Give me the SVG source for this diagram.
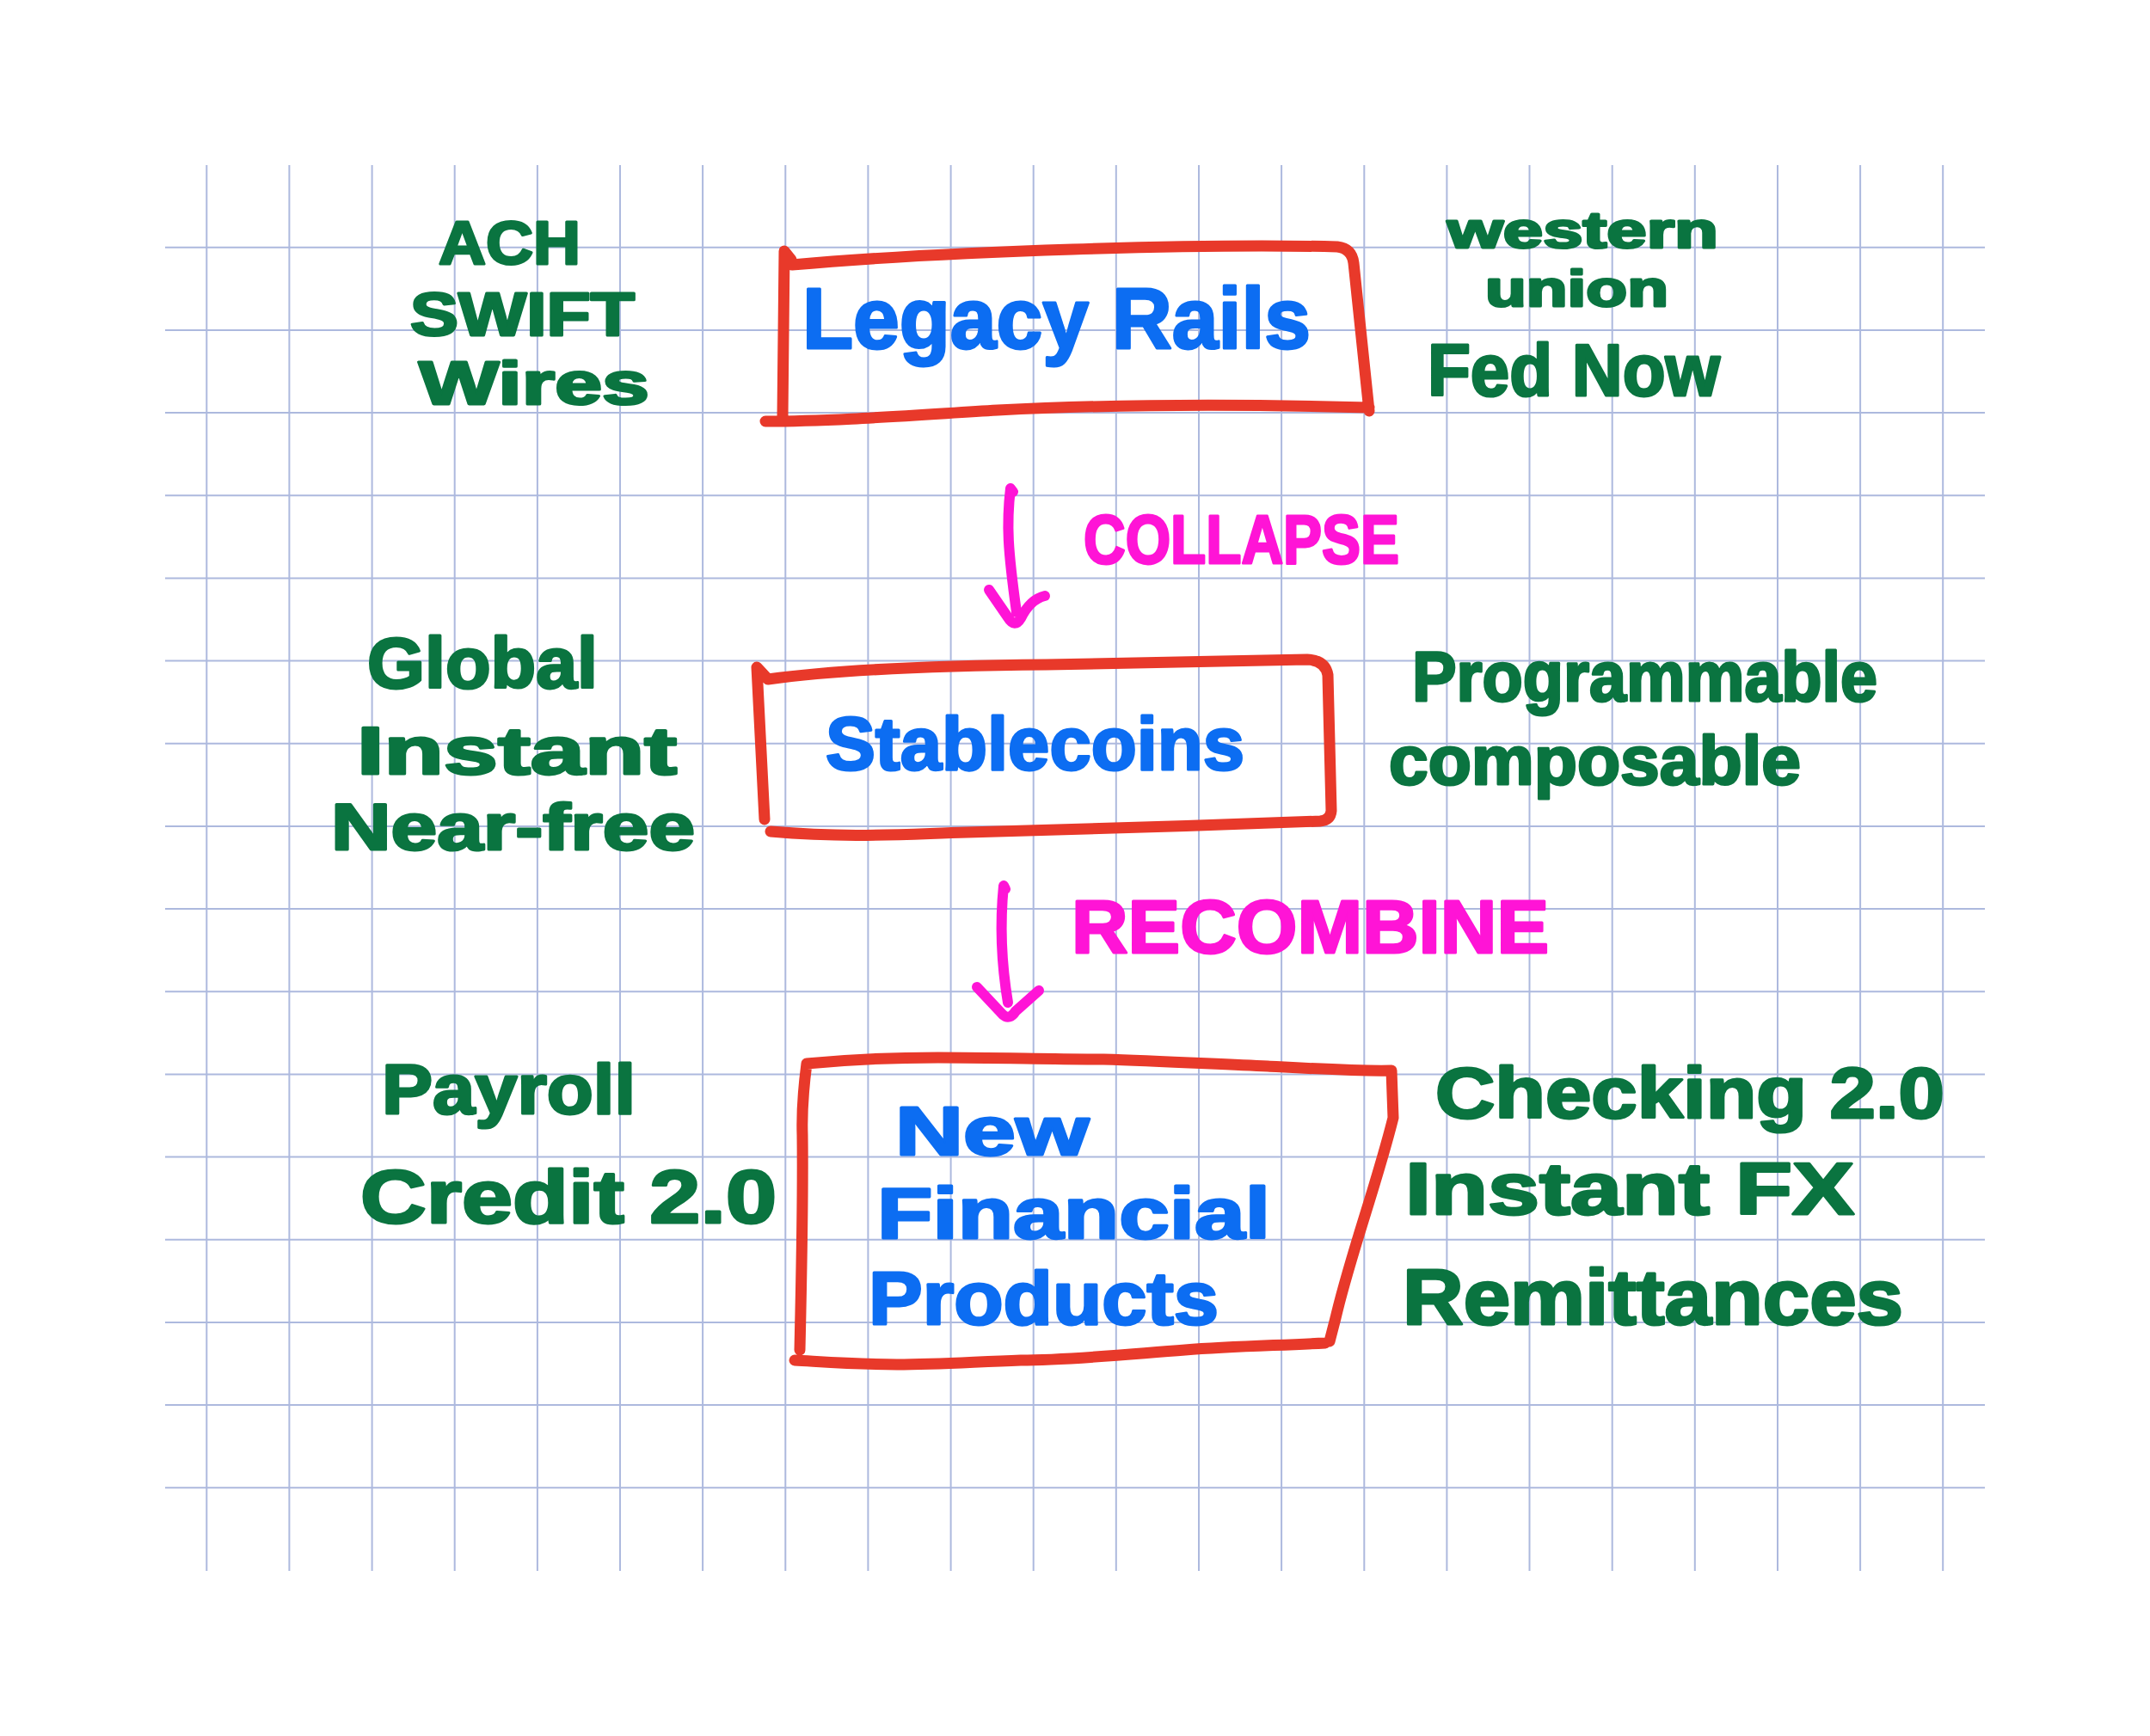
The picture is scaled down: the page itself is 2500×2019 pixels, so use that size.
<svg xmlns="http://www.w3.org/2000/svg" width="2500" height="2019" viewBox="0 0 2500 2019">
<style>
.grid{fill:none;stroke:#adb9de;stroke-width:2}
.box{fill:none;stroke:#e8392a;stroke-width:13;stroke-linecap:round;stroke-linejoin:round}
.arrow{fill:none;stroke:#ff14d6;stroke-width:12;stroke-linecap:round;stroke-linejoin:round}
.lbl{font-family:"Liberation Sans",Arial,sans-serif;font-weight:700;stroke-width:3;stroke-linejoin:round;paint-order:stroke}
.g{fill:#0a7440;stroke:#0a7440}
.b{fill:#0c6df2;stroke:#0c6df2}
.m{fill:#ff14d6;stroke:#ff14d6}
</style>
<rect x="0" y="0" width="2500" height="2019" fill="#ffffff"/>
<path class="grid" d="M240.3 192V1827M336.4 192V1827M432.6 192V1827M528.7 192V1827M624.9 192V1827M721 192V1827M817.1 192V1827M913.3 192V1827M1009.4 192V1827M1105.6 192V1827M1201.7 192V1827M1297.8 192V1827M1394 192V1827M1490.1 192V1827M1586.3 192V1827M1682.4 192V1827M1778.5 192V1827M1874.7 192V1827M1970.8 192V1827M2067 192V1827M2163.1 192V1827M2259.2 192V1827M192 287.7H2308M192 383.9H2308M192 480H2308M192 576.2H2308M192 672.4H2308M192 768.5H2308M192 864.7H2308M192 960.9H2308M192 1057.1H2308M192 1153.2H2308M192 1249.4H2308M192 1345.6H2308M192 1441.7H2308M192 1537.9H2308M192 1634.1H2308M192 1730.3H2308"/>

<g id="legacy-rails">
<path class="box" d="M910 484L912 292L920 302M921 308C1100 292 1400 283 1555 287Q1572 289 1574 306L1592 478M1592 474C1450 470 1300 470 1160 477C1060 483 970 490 890 490"/>
<text class="lbl b" x="933" y="405" font-size="100" textLength="591" lengthAdjust="spacingAndGlyphs">Legacy Rails</text>
</g>
<g id="legacy-left">
<text class="lbl g" x="510" y="307" font-size="70" textLength="165" lengthAdjust="spacingAndGlyphs">ACH</text>
<text class="lbl g" x="477" y="390" font-size="70" textLength="261" lengthAdjust="spacingAndGlyphs">SWIFT</text>
<text class="lbl g" x="487" y="470" font-size="70" textLength="268" lengthAdjust="spacingAndGlyphs">Wires</text>
</g>
<g id="legacy-right">
<text class="lbl g" x="1683" y="288" font-size="60" textLength="315" lengthAdjust="spacingAndGlyphs">western</text>
<text class="lbl g" x="1727" y="356" font-size="60" textLength="213" lengthAdjust="spacingAndGlyphs">union</text>
<text class="lbl g" x="1660" y="460" font-size="86" textLength="340" lengthAdjust="spacingAndGlyphs">Fed Now</text>
</g>

<g id="stablecoins">
<path class="box" d="M889 953L880 776L893 790M893 790C980 778 1100 774 1217 773C1350 771 1450 768 1520 767Q1541 768 1544 785L1548 943Q1547 954 1535 955C1400 960 1250 965 1125 968C1050 970 990 975 896 967"/>
<text class="lbl b" x="960" y="895" font-size="88" textLength="487" lengthAdjust="spacingAndGlyphs">Stablecoins</text>
</g>
<g id="stablecoins-left">
<text class="lbl g" x="427" y="800" font-size="84" textLength="268" lengthAdjust="spacingAndGlyphs">Global</text>
<text class="lbl g" x="415" y="900" font-size="78" textLength="372" lengthAdjust="spacingAndGlyphs">Instant</text>
<text class="lbl g" x="385" y="988" font-size="76" textLength="423" lengthAdjust="spacingAndGlyphs">Near-free</text>
</g>
<g id="stablecoins-right">
<text class="lbl g" x="1642" y="815" font-size="82" textLength="541" lengthAdjust="spacingAndGlyphs">Programmable</text>
<text class="lbl g" x="1615" y="912" font-size="80" textLength="479" lengthAdjust="spacingAndGlyphs">composable</text>
</g>

<g id="new-financial-products">
<path class="box" d="M930 1570C932 1480 934 1400 933 1320C932 1290 935 1260 938 1237M938 1237C990 1232 1040 1230 1091 1230C1160 1230 1220 1232 1283 1232C1350 1234 1420 1238 1474 1240C1530 1243 1580 1246 1618 1245L1620 1300C1600 1380 1570 1460 1553 1533L1546 1560M1541 1562C1480 1565 1430 1566 1378 1570C1300 1576 1240 1582 1187 1582C1130 1584 1090 1587 1043 1587C1000 1587 960 1584 924 1582"/>
<text class="lbl b" x="1041" y="1343" font-size="80" textLength="225" lengthAdjust="spacingAndGlyphs">New</text>
<text class="lbl b" x="1020" y="1440" font-size="84" textLength="457" lengthAdjust="spacingAndGlyphs">Financial</text>
<text class="lbl b" x="1010" y="1540" font-size="88" textLength="407" lengthAdjust="spacingAndGlyphs">Products</text>
</g>
<g id="products-left">
<text class="lbl g" x="444" y="1295" font-size="82" textLength="295" lengthAdjust="spacingAndGlyphs">Payroll</text>
<text class="lbl g" x="419" y="1422" font-size="88" textLength="484" lengthAdjust="spacingAndGlyphs">Credit 2.0</text>
</g>
<g id="products-right">
<text class="lbl g" x="1669" y="1300" font-size="84" textLength="592" lengthAdjust="spacingAndGlyphs">Checking 2.0</text>
<text class="lbl g" x="1634" y="1412" font-size="86" textLength="522" lengthAdjust="spacingAndGlyphs">Instant FX</text>
<text class="lbl g" x="1631" y="1540" font-size="90" textLength="582" lengthAdjust="spacingAndGlyphs">Remittances</text>
</g>

<g id="connectors">
<path class="arrow" d="M1178 572L1175 568C1170 610 1172 640 1182 712M1150 686L1172 718Q1180 731 1187 719Q1198 697 1215 693"/>
<text class="lbl m" x="1260" y="655" font-size="80" textLength="367" lengthAdjust="spacingAndGlyphs">COLLAPSE</text>
<path class="arrow" d="M1169 1034L1167 1030C1162 1080 1166 1130 1172 1166M1136 1148L1166 1180Q1174 1187 1181 1176L1208 1152"/>
<text class="lbl m" x="1246" y="1108" font-size="88" textLength="555" lengthAdjust="spacingAndGlyphs">RECOMBINE</text>
</g>
</svg>
